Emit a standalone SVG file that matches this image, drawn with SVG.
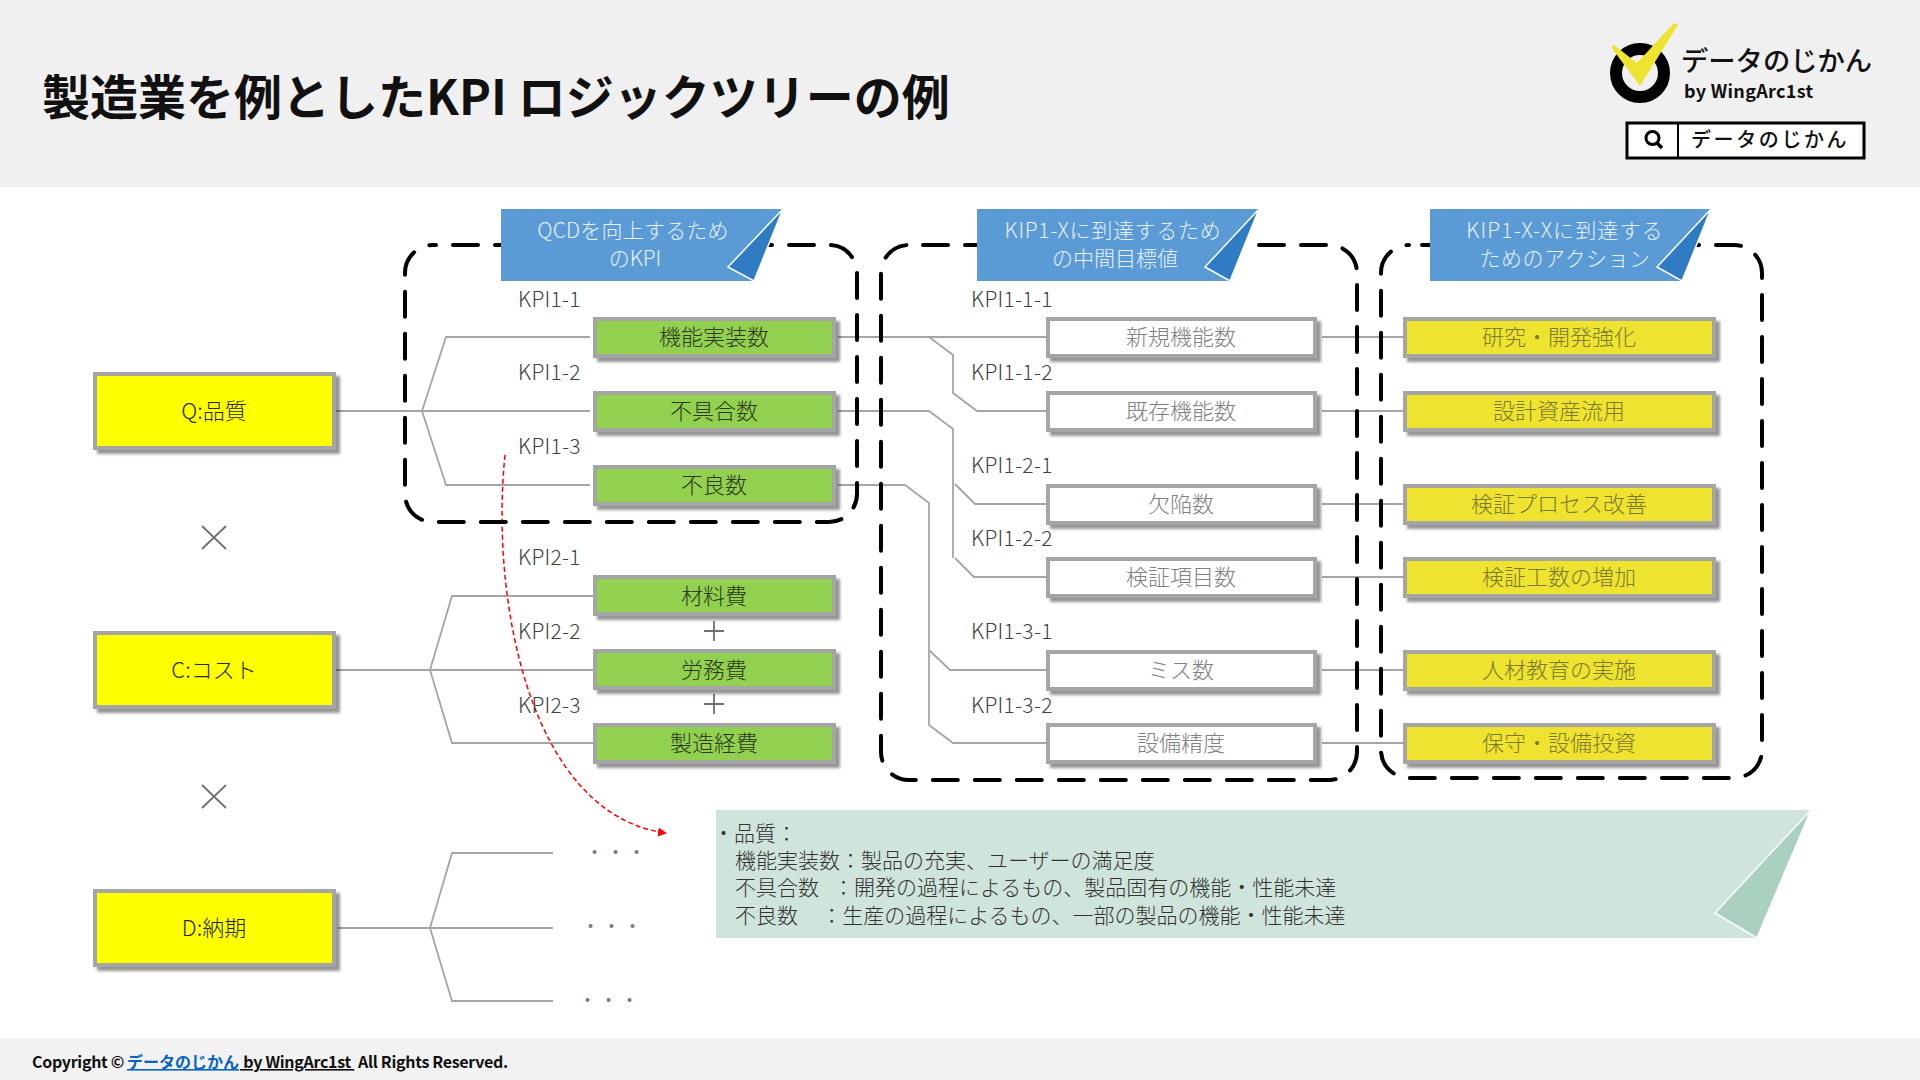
<svg xmlns="http://www.w3.org/2000/svg" width="1920" height="1080" viewBox="0 0 1920 1080">
<style>
text{font-family:"Noto Sans CJK JP","Noto Sans",sans-serif;font-weight:300}
.box{stroke:#a5a5a5;stroke-width:4;filter:url(#sh)}
.y1{fill:#ffff00}.gr{fill:#92d050}.wh{fill:#fff}.y2{fill:#eee32e}
.t{font-size:22px;text-anchor:middle;dominant-baseline:central;transform:translateY(-2px)}
.dk{fill:#2b3a20}.gy{fill:#808080}.ol{fill:#7d7a36}.bk{fill:#262626}
.lab{font-size:21px;fill:#404040;letter-spacing:.3px}
.cn{fill:none;stroke:#a5a5a5;stroke-width:1.8}
.ds{fill:none;stroke:#000;stroke-width:4;stroke-dasharray:25 17;stroke-linecap:round}
.ban{fill:#5b9bd5}.fold{fill:#2f7bc4;stroke:#fff;stroke-width:1.5}
.bt{font-size:21px;fill:#e6f0f9;text-anchor:middle}
.op{fill:none;stroke:#707070;stroke-width:1.8}
.nt{font-size:21px;fill:#333}
.dots{font-size:21px;fill:#7f7f7f}
</style>
<defs>
<filter id="sh" x="-10%" y="-20%" width="120%" height="150%"><feDropShadow dx="4" dy="4" stdDeviation="1.6" flood-color="#000" flood-opacity="0.42"/></filter>
<marker id="ar" markerWidth="11" markerHeight="11" refX="8" refY="5.5" orient="auto" markerUnits="userSpaceOnUse"><path d="M0 1L9 5.5L0 10Z" fill="#f00"/></marker>
</defs>
<rect width="1920" height="1080" fill="#fff"/>
<g id="header">
<rect width="1920" height="187" fill="#f0f0f0"/>
<text x="42" y="115" font-size="48" style="font-weight:700" fill="#111">製造業を例としたKPI ロジックツリーの例</text>
</g>
<g id="logo">
<circle cx="1640" cy="73" r="24" fill="none" stroke="#000" stroke-width="12"/>
<path d="M1611 47L1614 45L1637 63L1674 23L1678 25L1640 86Z" fill="#eee32e"/>
<text x="1681" y="71" font-size="27.3" style="font-weight:500" fill="#111">データのじかん</text>
<text x="1684" y="98" font-size="18" letter-spacing="0.3" style="font-weight:700" fill="#111">by WingArc1st</text>
<rect x="1627" y="123" width="237" height="35" fill="#fff" stroke="#000" stroke-width="3"/>
<path d="M1678 123V158" stroke="#000" stroke-width="2"/>
<circle cx="1652.5" cy="138" r="6.5" fill="none" stroke="#000" stroke-width="3"/>
<path d="M1657 143L1662 148" stroke="#000" stroke-width="3.5"/>
<text x="1691" y="147" font-size="20" letter-spacing="2.6" style="font-weight:500" fill="#111">データのじかん</text>
</g>
<g id="connectors">
<path class="cn" d="M336 411H590M422 411L446 337H590M422 411L446 485H590"/>
<path class="cn" d="M336 670H594M430 670L452 596H594M430 670L452 743H594"/>
<path class="cn" d="M380 670H430"/>
<path class="cn" d="M338 928H553M430 928L452 853H553M430 928L452 1001H553"/>
<path class="cn" d="M838 337H1046M929 337L953 355V393L977 411H1046"/>
<path class="cn" d="M838 411H929L953 429V558M955 484L975 504H1046M955 558L974 577H1046"/>
<path class="cn" d="M838 485H905L929 503V725L953 743H1046M929 650L950 670H1046"/>
<path class="cn" d="M1322 337H1403M1322 411H1403M1322 504H1403M1322 577H1403M1322 670H1403M1322 743H1403"/>
<path fill="none" stroke="#f00" stroke-width="1.5" stroke-dasharray="5 3" marker-end="url(#ar)" d="M505 455C490 600 530 815 666 833"/>
</g>
<g id="groups">
<rect class="ds" x="405" y="245" width="452" height="277" rx="28" stroke-dashoffset="22"/>
<rect class="ds" x="881" y="245" width="476" height="535" rx="28" stroke-dashoffset="28"/>
<rect class="ds" x="1381" y="245" width="381" height="533" rx="28" stroke-dashoffset="29"/>
</g>
<g id="banner-1"><path class="ban" d="M501 209H783L754 281H501Z"/><path class="fold" d="M783 209L754 281L728 267Z"/>
<text class="bt" x="633" y="238" letter-spacing=".2">QCDを向上するため</text><text class="bt" x="635" y="266">のKPI</text></g>
<g id="banner-2"><path class="ban" d="M977 209H1259L1230 281H977Z"/><path class="fold" d="M1259 209L1230 281L1205 267Z"/>
<text class="bt" x="1113" y="238" letter-spacing=".7">KIP1-Xに到達するため</text><text class="bt" x="1115" y="266">の中間目標値</text></g>
<g id="banner-3"><path class="ban" d="M1430 209H1711L1682 281H1430Z"/><path class="fold" d="M1711 209L1682 281L1657 267Z"/>
<text class="bt" x="1565" y="238" letter-spacing="1.1">KIP1-X-Xに到達する</text><text class="bt" x="1565" y="266" letter-spacing=".5">ためのアクション</text></g>
<g id="q"><rect class="box y1" x="95" y="374" width="239" height="74"/><text class="t bk" x="214" y="411">Q:品質</text></g>
<g id="c"><rect class="box y1" x="95" y="633" width="239" height="74"/><text class="t bk" x="214" y="670">C:コスト</text></g>
<g id="d"><rect class="box y1" x="95" y="891" width="239" height="74"/><text class="t bk" x="214" y="928">D:納期</text></g>
<g id="ops">
<path class="op" d="M202 526L226 549M226 526L202 549M202 785L226 808M226 785L202 808"/>
<path class="op" d="M704 631H724M714 621V641M704 704H724M714 694V714"/>
</g>
<g id="kpi1-1"><rect class="box gr" x="595" y="319" width="239" height="37"/><text class="t dk" x="714" y="337">機能実装数</text><text class="lab" x="518" y="307">KPI1-1</text></g>
<g id="kpi1-2"><rect class="box gr" x="595" y="393" width="239" height="37"/><text class="t dk" x="714" y="411">不具合数</text><text class="lab" x="518" y="380">KPI1-2</text></g>
<g id="kpi1-3"><rect class="box gr" x="595" y="467" width="239" height="37"/><text class="t dk" x="714" y="485">不良数</text><text class="lab" x="518" y="454">KPI1-3</text></g>
<g id="kpi2-1"><rect class="box gr" x="595" y="577" width="239" height="37"/><text class="t dk" x="714" y="596">材料費</text><text class="lab" x="518" y="565">KPI2-1</text></g>
<g id="kpi2-2"><rect class="box gr" x="595" y="651" width="239" height="37"/><text class="t dk" x="714" y="670">労務費</text><text class="lab" x="518" y="639">KPI2-2</text></g>
<g id="kpi2-3"><rect class="box gr" x="595" y="725" width="239" height="37"/><text class="t dk" x="714" y="743">製造経費</text><text class="lab" x="518" y="713">KPI2-3</text></g>
<g id="kpi1-1-1"><rect class="box wh" x="1048" y="319" width="267" height="37"/><text class="t gy" x="1181" y="337">新規機能数</text><text class="lab" x="971" y="307">KPI1-1-1</text></g>
<g id="kpi1-1-2"><rect class="box wh" x="1048" y="393" width="267" height="37"/><text class="t gy" x="1181" y="411">既存機能数</text><text class="lab" x="971" y="380">KPI1-1-2</text></g>
<g id="kpi1-2-1"><rect class="box wh" x="1048" y="486" width="267" height="37"/><text class="t gy" x="1181" y="504">欠陥数</text><text class="lab" x="971" y="473">KPI1-2-1</text></g>
<g id="kpi1-2-2"><rect class="box wh" x="1048" y="559" width="267" height="37"/><text class="t gy" x="1181" y="577">検証項目数</text><text class="lab" x="971" y="546">KPI1-2-2</text></g>
<g id="kpi1-3-1"><rect class="box wh" x="1048" y="652" width="267" height="37"/><text class="t gy" x="1181" y="670">ミス数</text><text class="lab" x="971" y="639">KPI1-3-1</text></g>
<g id="kpi1-3-2"><rect class="box wh" x="1048" y="725" width="267" height="37"/><text class="t gy" x="1181" y="743">設備精度</text><text class="lab" x="971" y="713">KPI1-3-2</text></g>
<g id="act-1"><rect class="box y2" x="1405" y="319" width="309" height="37"/><text class="t ol" x="1559" y="337">研究・開発強化</text></g>
<g id="act-2"><rect class="box y2" x="1405" y="393" width="309" height="37"/><text class="t ol" x="1559" y="411">設計資産流用</text></g>
<g id="act-3"><rect class="box y2" x="1405" y="486" width="309" height="37"/><text class="t ol" x="1559" y="504">検証プロセス改善</text></g>
<g id="act-4"><rect class="box y2" x="1405" y="559" width="309" height="37"/><text class="t ol" x="1559" y="577">検証工数の増加</text></g>
<g id="act-5"><rect class="box y2" x="1405" y="652" width="309" height="37"/><text class="t ol" x="1559" y="670">人材教育の実施</text></g>
<g id="act-6"><rect class="box y2" x="1405" y="725" width="309" height="37"/><text class="t ol" x="1559" y="743">保守・設備投資</text></g>
<g id="dots">
<text class="dots" x="584" y="860">・・・</text>
<text class="dots" x="580" y="934">・・・</text>
<text class="dots" x="577" y="1008">・・・</text>
</g>
<g id="note">
<path d="M716 810H1811L1757 938H716Z" fill="#cfe4db"/>
<path d="M1811 810L1757 938L1715 913Z" fill="#aad0c0" stroke="#fff" stroke-width="1.5"/>
<text class="nt" x="713" y="841">・品質：</text>
<text class="nt" x="735" y="868">機能実装数：製品の充実、ユーザーの満足度</text>
<text class="nt" x="735" y="895" xml:space="preserve">不具合数   ：開発の過程によるもの、製品固有の機能・性能未達</text>
<text class="nt" x="735" y="923" xml:space="preserve">不良数     ：生産の過程によるもの、一部の製品の機能・性能未達</text>
</g>
<g id="footer">
<rect y="1038" width="1920" height="42" fill="#f2f2f2"/>
<text x="32" y="1068" font-size="16" style="font-weight:700" fill="#111" xml:space="preserve"><tspan letter-spacing="-.3">Copyright © </tspan><tspan x="127" fill="#0563c1" text-decoration="underline">データのじかん</tspan><tspan x="240" letter-spacing="-.3" text-decoration="underline"> by WingArc1st </tspan><tspan x="358" letter-spacing="-.3">All Rights Reserved.</tspan></text>
</g>
</svg>
